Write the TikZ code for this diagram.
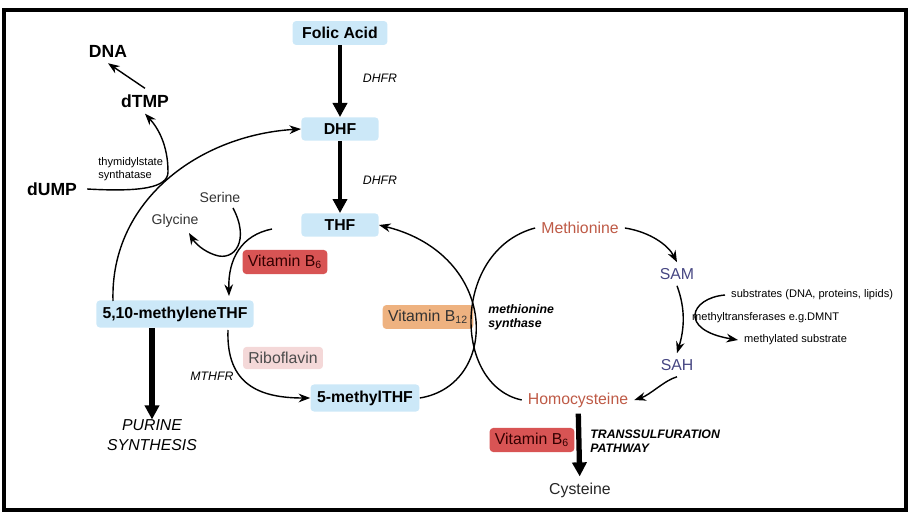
\documentclass[tikz,border=0pt]{standalone}
\usepackage{fontspec}
\setmainfont{Liberation Sans}
\usetikzlibrary{arrows.meta}
\usetikzlibrary{positioning}

\definecolor{boxblue}{RGB}{204,232,248}
\definecolor{vitred}{RGB}{216,84,84}
\definecolor{vitpink}{RGB}{244,216,216}
\definecolor{vitorange}{RGB}{238,178,128}
\definecolor{metred}{RGB}{190,90,70}
\definecolor{sampurple}{RGB}{70,70,130}

\begin{document}
\begin{tikzpicture}[%
  x=0.02cm, y=-0.02cm,
  >={Stealth[scale=1.0]},
  folate/.style={fill=boxblue, rounded corners=2pt, font=\bfseries\small, inner sep=3.5pt},
  vitamin/.style={rounded corners=2pt, font=\small, inner sep=3pt},
  enzyme/.style={font=\itshape\scriptsize},
  plain/.style={font=\fontsize{6.3}{7.6}\selectfont},
  flow/.style={->, thick},
  heavy/.style={-{Triangle[length=8pt,width=8pt]}, line width=3pt},
]

  \useasboundingbox (0,0) rectangle (909,516);
  \draw[line width=2pt] (4,10) rectangle (906,510);

  \node[folate, minimum width=54pt] (folic) at (340,33) {Folic Acid};
  \node[folate, minimum width=44pt] (dhf) at (340,129) {DHF};
  \node[folate, minimum width=44pt] (thf) at (340,225) {THF};
  \node[folate, minimum width=85pt] (mthf) at (175,314) {5,10-methyleneTHF};
  \node[folate, minimum width=62pt] (methyl) at (365,398) {5-methylTHF};

  \node[vitamin, fill=vitred, text=black!80!red] (bsix) at (285,262) {Vitamin B\textsubscript{6}};
  \node[vitamin, fill=vitpink, text=black!70] (ribo) at (283,358) {Riboflavin};
  \node[vitamin, fill=vitorange, text=black!80] (btwelve) at (428,317) {Vitamin B\textsubscript{12}};
  \node[vitamin, fill=vitred, text=black!80!red] (bsixb) at (532,440) {Vitamin B\textsubscript{6}};

  \node[font=\small, text=metred] (met) at (580,228) {Methionine};
  \node[font=\small, text=sampurple] (sam) at (677,274) {SAM};
  \node[font=\small, text=sampurple] (sah) at (677,365) {SAH};
  \node[font=\small, text=metred] (homo) at (578,400) {Homocysteine};
  \node[font=\small, text=black!85] (cys) at (580,490) {Cysteine};

  \node[font=\bfseries] (dna) at (108,51) {DNA};
  \node[font=\bfseries] (dtmp) at (145,101) {dTMP};
  \node[font=\bfseries] (dump) at (52,189) {dUMP};
  \node[font=\footnotesize, text=black!80] (serine) at (220,197) {Serine};
  \node[font=\footnotesize, text=black!80] (glycine) at (175,221) {Glycine};

  \node[plain, align=left, anchor=west, inner sep=0pt] (ts) at (98,169) {thymidylstate\\synthatase};
  \node[enzyme] (dhfra) at (380,78) {DHFR};
  \node[enzyme] (dhfrb) at (380,180) {DHFR};
  \node[enzyme] (mthfr) at (212,376) {MTHFR};
  \node[font=\itshape\small, align=center, inner sep=0pt] (purine) at (152,435) {PURINE\\SYNTHESIS};
  \node[font=\bfseries\itshape\scriptsize, align=left, anchor=west, inner sep=0pt] (msyn) at (488,317) {methionine\\synthase};
  \node[font=\bfseries\itshape\scriptsize, align=left, anchor=west, inner sep=0pt] (trans) at (590,441) {TRANSSULFURATION\\PATHWAY};
  \node[plain, anchor=west] (subs) at (725,295) {substrates (DNA, proteins, lipids)};
  \node[plain, anchor=west] (mtase) at (686,318) {methyltransferases e.g.DMNT};
  \node[plain, anchor=west] (msub) at (738,340) {methylated substrate};

  \draw[heavy, line width=2pt] (folic) -- (dhf);
  \draw[heavy, line width=2pt] (dhf) -- (thf);
  \draw[heavy] (mthf.south -| purine.north) -- (purine.north);
  \draw[heavy] (homo) -- (cys);

  \coordinate (arcstart) at (113,301);
  \draw[flow] (arcstart) .. controls (110,200) and (200,135) .. (dhf.west);
  \draw[flow] (dump.east) ++(4,0) .. controls (140,192) and (168,188) .. (168,172)
    .. controls (168,145) and (158,128) .. (dtmp.south);
  \draw[flow] (dtmp.north) -- (dna.south);

  \coordinate (sstart) at (233,208);
  \coordinate (tstart) at (272,229);
  \draw[flow] (sstart) .. controls (250,240) and (235,262) .. (215,255)
    .. controls (203,251) and (195,243) .. (189,233);
  \draw[flow] (tstart) .. controls (242,235) and (228,258) .. (229,296);
  \draw[flow] (228,330) .. controls (226,385) and (260,398) .. (methyl.west);

  \draw[flow] (methyl.east) .. controls (500,385) and (500,255) .. (thf.east);
  \draw[thick] (homo.west) .. controls (452,385) and (452,250) .. (met.west);
  \draw[flow] (met.east) .. controls (650,232) and (668,245) .. (sam.north);
  \draw[flow] (sam.south) .. controls (686,310) and (684,330) .. (sah.north);
  \draw[flow] (subs.west) .. controls (690,298) and (678,330) .. (msub.west);
  \draw[flow] (sah.south) .. controls (665,380) and (650,395) .. (homo.east);

\end{tikzpicture}
\end{document}
